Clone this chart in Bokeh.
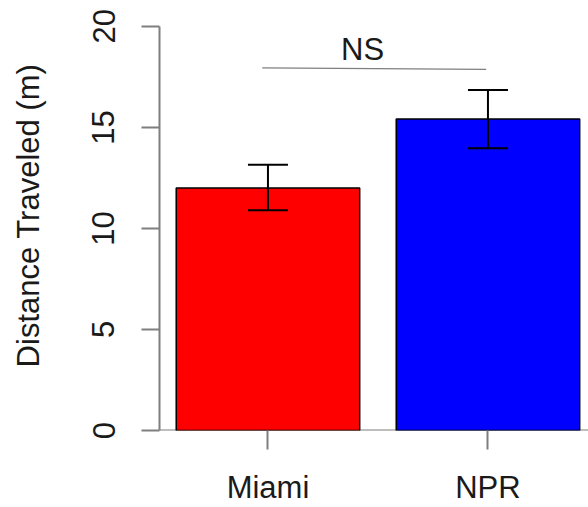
from bokeh.plotting import figure
from bokeh.models import Range1d, FixedTicker, ColumnDataSource, Whisker, TeeHead, Span
from bokeh.core.properties import value
from bokeh.embed import file_html
from bokeh.resources import INLINE

# data
groups = ["Miami", "NPR"]
means = [12.0, 15.42]
upper = [13.15, 16.85]
lower = [10.9, 13.97]
colors = ["#ff0000", "#0000ff"]
y_ticks = [0, 5, 10, 15, 20]
sig_label = "NS"
sig_x = [0.974, 1.992]
sig_y = [17.95, 17.87]

xs = list(range(1, len(groups) + 1))
FONT = "Liberation Sans"
FS = "31px"
GRAY = "#7f7f7f"

p = figure(width=588, height=507, output_backend="svg", toolbar_location=None,
           x_range=Range1d(0.507, 2.457), y_range=Range1d(0, 21.28),
           min_border_left=159, min_border_right=0, min_border_top=0, min_border_bottom=75)
p.outline_line_color = None
p.xgrid.grid_line_color = None
p.ygrid.grid_line_color = None
p.background_fill_color = "white"
p.border_fill_color = "white"

p.add_layout(Span(location=0, dimension="width", line_color=GRAY, line_width=2, level="underlay"))

src = ColumnDataSource(dict(x=xs, top=means, upper=upper, lower=lower, color=colors))
p.vbar(x="x", top="top", bottom=0, width=0.834, fill_color="color", line_color="black",
       line_width=1.5, source=src)

p.add_layout(Whisker(base="x", upper="upper", lower="lower", source=src, level="overlay",
                     line_color="black", line_width=2,
                     upper_head=TeeHead(size=40, line_color="black", line_width=2),
                     lower_head=TeeHead(size=40, line_color="black", line_width=2)))

p.line(sig_x, sig_y, line_color=GRAY, line_width=1.2)
p.text(x=[1.43], y=[18.85], text=[sig_label], text_font=value(FONT), text_font_size=FS,
       text_align="center", text_baseline="alphabetic", text_color="#1a1a1a")

ya = p.yaxis[0]
ya.ticker = FixedTicker(ticks=y_ticks)
ya.bounds = (0, 20)
ya.axis_line_color = GRAY
ya.axis_line_width = 2
ya.major_tick_line_color = GRAY
ya.major_tick_line_width = 2
ya.major_tick_out = 18
ya.major_tick_in = 0
ya.minor_tick_line_color = None
ya.major_label_orientation = "vertical"
ya.major_label_text_font = FONT
ya.major_label_text_font_size = FS
ya.major_label_text_color = "#1a1a1a"
ya.major_label_standoff = 27
ya.axis_label = "Distance Traveled (m)"
ya.axis_label_text_font = FONT
ya.axis_label_text_font_size = FS
ya.axis_label_text_font_style = "normal"
ya.axis_label_text_color = "#1a1a1a"
ya.axis_label_standoff = 44

xa = p.xaxis[0]
xa.ticker = FixedTicker(ticks=xs)
xa.major_label_overrides = {x: g for x, g in zip(xs, groups)}
xa.axis_line_color = None
xa.major_tick_line_color = GRAY
xa.major_tick_line_width = 2
xa.major_tick_out = 19
xa.major_tick_in = 0
xa.minor_tick_line_color = None
xa.major_label_text_font = FONT
xa.major_label_text_font_size = FS
xa.major_label_text_color = "#1a1a1a"
xa.major_label_standoff = 20

open("out.html", "w").write(file_html(p, INLINE))
